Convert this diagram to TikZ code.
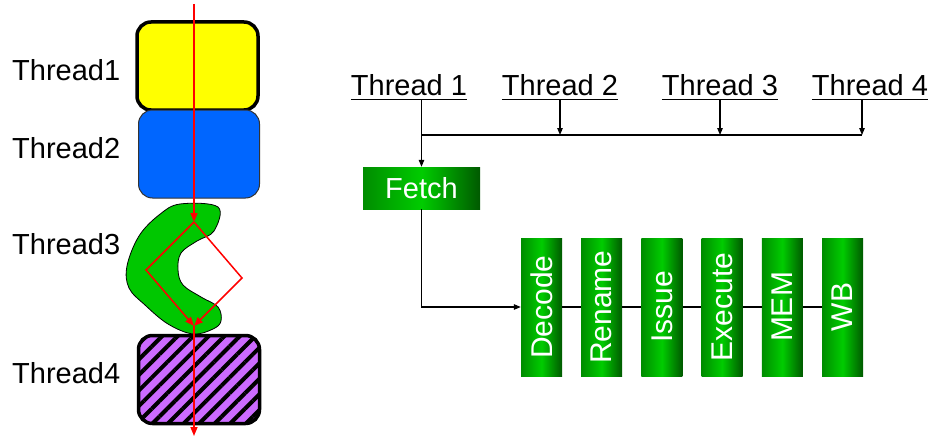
\documentclass[tikz,border=0pt]{standalone}
\usepackage{fontspec}
\setmainfont{Liberation Sans}
\usetikzlibrary{arrows.meta}
\usetikzlibrary{patterns.meta}
\usetikzlibrary{positioning}
\definecolor{threadyellow}{rgb}{1,1,0}
\definecolor{threadblue}{rgb}{0,0.4,1}
\definecolor{threadgreen}{rgb}{0,0.78,0}
\definecolor{threadpurple}{rgb}{0.8,0.42,1}
\definecolor{stagedark}{rgb}{0,0.35,0}
\definecolor{stagemid}{rgb}{0,0.55,0}
\definecolor{stagelight}{rgb}{0,0.8,0}

\begin{document}
\begin{tikzpicture}[x=1pt,y=-1pt,
  font=\fontsize{29}{33}\selectfont,
  tbox/.style={rectangle, rounded corners=14pt, minimum width=121pt, minimum height=88pt, inner sep=0pt},
  tname/.style={anchor=base west, inner sep=0pt},
  tlabel/.style={anchor=base, inner xsep=0pt, inner ysep=4pt,
    append after command={(\tikzlastnode.south west) edge[line width=1.6pt] (\tikzlastnode.south east)}},
  stagebox/.style={rectangle, minimum width=41pt, minimum height=138pt, inner sep=0pt,
    left color=stagemid, right color=stagedark, middle color=stagelight, text=white},
  stagetext/.style={rotate=90, text=white, inner sep=0pt, font=\fontsize{30}{34}\selectfont},
  wire/.style={line width=1.1pt},
  wirearrow/.style={-{Triangle[length=7pt,width=5.5pt]}},
  redline/.style={draw=red, line width=1.5pt},
  redarrow/.style={-{Triangle[length=9pt,width=7pt]}}]
\useasboundingbox (0,0) rectangle (931,436);

% thread names on the left
\node[tname] (n1) at (12,80) {Thread1};
\node[tname] (n2) at (12,158) {Thread2};
\node[tname] (n3) at (12,254) {Thread3};
\node[tname] (n4) at (12,383) {Thread4};

% the four threads
\node[tbox, fill=threadyellow, draw=black, line width=3.5pt] (yellow) at (197.5,66) {};
\node[tbox, fill=threadblue, draw=black!80, line width=1pt] (blue) at (199,154) {};
\draw[fill=threadgreen, line width=0.8pt] plot[smooth cycle, tension=0.6] coordinates {
  (180,204) (218,207) (214,231) (197,241) (181,253) (178,270) (183,285)
  (201,297) (218,307) (221,321) (213,329) (193,334) (168,324) (145,305)
  (129,288) (127,266) (139,236) (159,215)};
\node[tbox, fill=threadpurple,
  postaction={pattern={Lines[angle=45,distance=11pt,line width=4pt]}, pattern color=black},
  postaction={draw=black, line width=3.5pt}] (purple) at (199,379.5) {};

% path of execution
\coordinate (rtop) at (194,4);
\coordinate (rin) at (194,222);
\coordinate (rleft) at (146,270);
\coordinate (rright) at (242,278);
\coordinate (rout) at (194,326);
\coordinate (rend) at (194,436);
\draw[redline, redarrow] (rtop) -- (rin);
\draw[redline, redarrow] (rin) -- (rleft) -- (rout);
\draw[redline, redarrow] (rin) -- (rright) -- (rout);
\draw[redline, redarrow] (rout) -- (rend);

% thread sources
\node[tlabel] (t1) at (409,95) {Thread 1};
\node[tlabel] (t2) at (560,95) {Thread 2};
\node[tlabel] (t3) at (720,95) {Thread 3};
\node[tlabel] (t4) at (870,95) {Thread 4};

% pipeline
\node[stagebox, minimum width=117pt, minimum height=42pt] (fetch) at (421.5,188) {Fetch};
\foreach \name/\txt [count=\i from 0] in {decode/Decode, rename/Rename, issue/Issue, execute/Execute, mem/MEM, wb/WB}
  \node[stagebox, label={[stagetext]center:\txt}] (\name) at (541.5+60.2*\i,307) {};

\coordinate (bus) at (862,135);
\draw[wire, wirearrow] (t1.south -| fetch) -- (fetch.north);
\draw[wire] (bus -| fetch) -- (bus);
\draw[wire, wirearrow] (t2.south) -- (t2.south |- bus);
\draw[wire, wirearrow] (t3.south) -- (t3.south |- bus);
\draw[wire, wirearrow] (t4.south -| bus) -- (bus);
\draw[wire, wirearrow] (fetch.south) |- (decode.west);
\foreach \a/\b in {decode/rename, rename/issue, issue/execute, execute/mem, mem/wb}
  \draw[wire] (\a.east) -- (\b.west);
\end{tikzpicture}
\end{document}
